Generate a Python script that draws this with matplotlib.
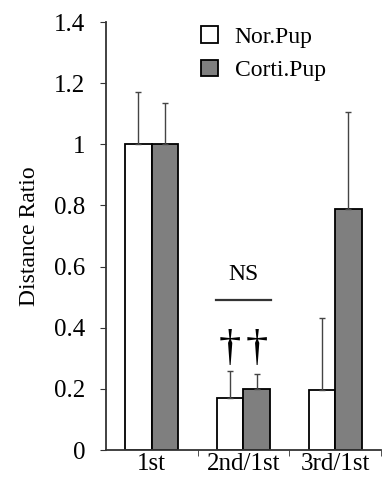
import numpy as np
import matplotlib.pyplot as plt
from matplotlib.ticker import FixedLocator

plt.rcParams['font.family'] = ['Liberation Serif', 'DejaVu Serif']

categories = ['1st', '2nd/1st', '3rd/1st']
nor_mean = [1.0, 0.17, 0.197]
nor_err = [0.172, 0.087, 0.234]
corti_mean = [1.0, 0.20, 0.787]
corti_err = [0.136, 0.048, 0.320]

x = np.arange(len(categories))
w = 0.29

fig = plt.figure(figsize=(3.88, 4.91), dpi=100)
ax = fig.add_axes([0.273, 0.0835, 0.709, 0.8715])

err_kw = dict(ecolor='#444444', elinewidth=1.0, capsize=2.5, capthick=1.0)
ax.bar(x - w/2, nor_mean, w, color='white', edgecolor='black', linewidth=1.3,
       yerr=[np.zeros(3), nor_err], error_kw=err_kw, label='Nor.Pup')
ax.bar(x + w/2, corti_mean, w, color='#7f7f7f', edgecolor='black', linewidth=1.3,
       yerr=[np.zeros(3), corti_err], error_kw=err_kw, label='Corti.Pup')

# significance marks over the second group
ax.plot([x[1] - 0.3, x[1] + 0.3], [0.49, 0.49], color='#333333', lw=1.6)
ax.text(x[1], 0.575, 'NS', ha='center', va='center', fontsize=17)
for dx in (-w/2, w/2):
    ax.text(x[1] + dx, 0.33, '\u2020', ha='center', va='center', fontsize=32)

ax.set_xlim(-0.5, 2.5)
ax.set_ylim(0, 1.4)
ax.set_yticks([0, 0.2, 0.4, 0.6, 0.8, 1.0, 1.2, 1.4])
ax.set_yticklabels(['0', '0.2', '0.4', '0.6', '0.8', '1', '1.2', '1.4'])
ax.set_xticks(x)
ax.set_xticklabels(categories)
ax.xaxis.set_minor_locator(FixedLocator([0.5, 1.5, 2.5]))
ax.tick_params(axis='x', which='major', length=0, labelsize=18, pad=2)
ax.tick_params(axis='x', which='minor', length=4, color='#333333')
ax.tick_params(axis='y', length=4, labelsize=18, color='#333333', pad=11)
ax.set_ylabel('Distance Ratio', fontsize=17, labelpad=10)

for s in ('top', 'right'):
    ax.spines[s].set_visible(False)
for s in ('left', 'bottom'):
    ax.spines[s].set_color('#333333')
    ax.spines[s].set_linewidth(1.3)

ax.legend(loc='upper left', bbox_to_anchor=(0.27, 1.04), frameon=False, fontsize=17,
          handlelength=0.7, handleheight=0.7, handletextpad=0.7, labelspacing=0.5)

fig.savefig('out.png', dpi=100)
